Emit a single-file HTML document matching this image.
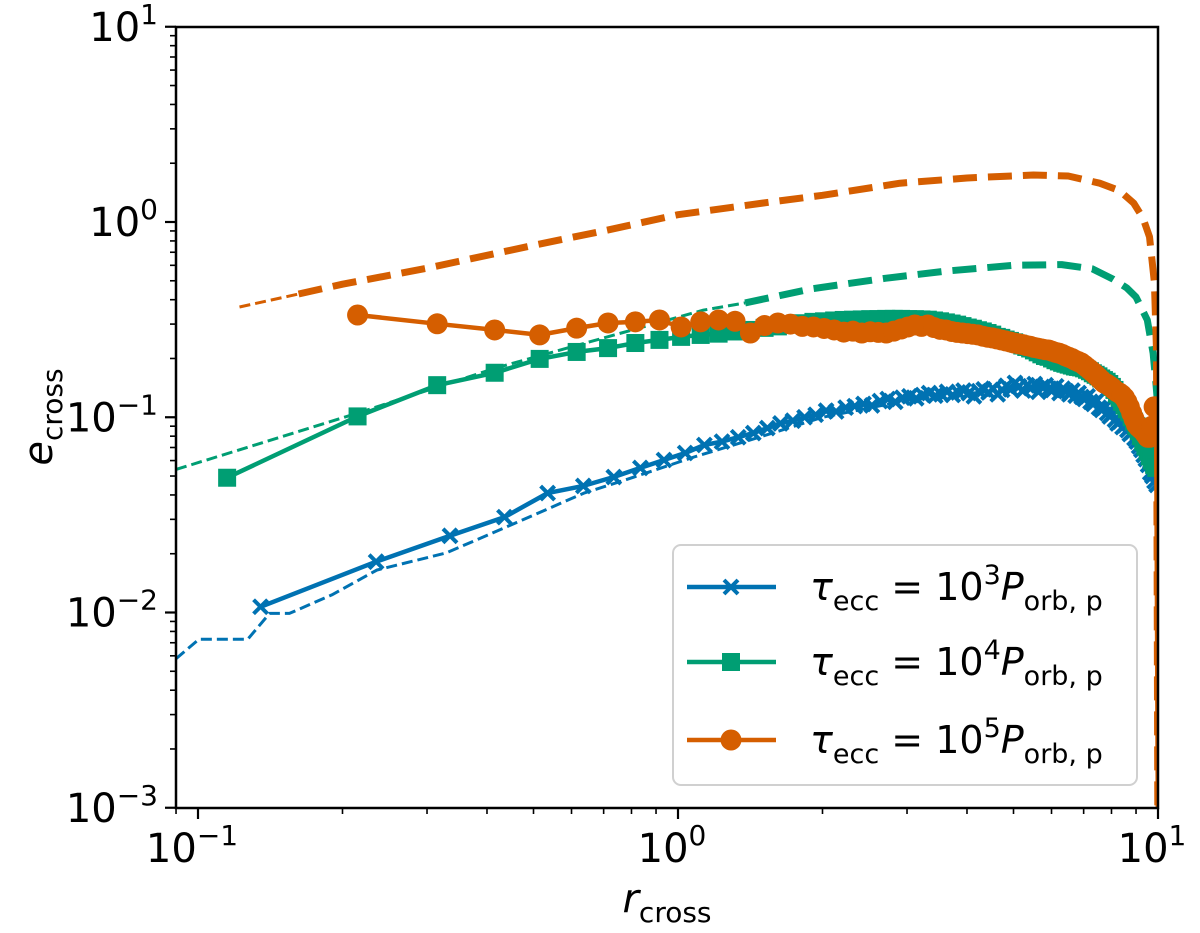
<!DOCTYPE html>
<html><head><meta charset="utf-8"><style>
html,body{margin:0;padding:0;background:#fff;}
svg{display:block;font-family:"DejaVu Sans","Liberation Sans",sans-serif;}
</style></head><body>
<svg id="chart" width="1200" height="933" viewBox="0 0 1200 933" xmlns="http://www.w3.org/2000/svg">
<defs><clipPath id="plotclip"><rect x="176" y="27" width="982" height="781"/></clipPath></defs>
<g id="plot" clip-path="url(#plotclip)"></g>
<g id="axes"></g>
<text x="52" y="417" font-size="40" text-anchor="middle" transform="rotate(-90 52 417)"><tspan font-style="italic">e</tspan><tspan font-size="28" dy="10">cross</tspan></text>
<text x="667" y="912" font-size="40" text-anchor="middle"><tspan font-style="italic">r</tspan><tspan font-size="28" dy="10">cross</tspan></text>
<g id="legend"></g>
</svg>
<script>
const xTickVals=[0.1,1,10];
const xTickExp=["−1","0","1"];
const yTickVals=[10,1,0.1,0.01,0.001];
const yTickExp=["1","0","−1","−2","−3"];

const blueR=[0.135,0.235,0.335,0.435,0.535,0.635,0.735,0.835,0.935,1.035,1.135,1.235,1.335,1.435,1.535,1.635,1.735,1.835,1.935,2.035,2.135,2.235,2.335,2.435,2.535,2.635,2.735,2.835,2.935,3.035,3.135,3.235,3.335,3.435,3.535,3.635,3.735,3.835,3.935,4.035,4.135,4.235,4.335,4.435,4.535,4.635,4.735,4.835,4.935,5.035,5.135,5.235,5.335,5.435,5.535,5.635,5.735,5.835,5.935,6.035,6.135,6.235,6.335,6.435,6.535,6.635,6.735,6.835,6.935,7.035,7.135,7.235,7.335,7.435,7.535,7.635,7.735,7.835,7.935,8.035,8.135,8.235,8.335,8.435,8.535,8.635,8.735,8.835,8.935,9.035,9.135,9.235,9.335,9.435,9.535,9.635,9.735,9.835,9.935];
const blueE=[0.0107,0.0182,0.0247,0.0308,0.0409,0.0445,0.0494,0.055,0.0604,0.0656,0.0721,0.075,0.079,0.083,0.088,0.093,0.096,0.1,0.103,0.108,0.107,0.112,0.114,0.117,0.115,0.121,0.124,0.12,0.126,0.128,0.125,0.13,0.133,0.129,0.131,0.135,0.13,0.134,0.137,0.133,0.128,0.136,0.139,0.134,0.14,0.131,0.138,0.145,0.139,0.15,0.144,0.137,0.146,0.141,0.148,0.135,0.143,0.146,0.14,0.138,0.144,0.133,0.14,0.136,0.131,0.137,0.129,0.133,0.127,0.124,0.128,0.12,0.117,0.121,0.112,0.109,0.112,0.105,0.101,0.104,0.097,0.093,0.095,0.089,0.091,0.086,0.082,0.084,0.078,0.075,0.071,0.068,0.064,0.061,0.057,0.052,0.05,0.047,0.045];
const greenR=[0.115,0.215,0.315,0.415,0.515,0.615,0.715,0.815,0.915,1.015,1.115,1.215,1.315,1.415,1.515,1.615,1.715,1.815,1.915,2.015,2.115,2.215,2.315,2.415,2.515,2.615,2.715,2.815,2.915,3.015,3.115,3.215,3.315,3.415,3.515,3.615,3.715,3.815,3.915,4.015,4.115,4.215,4.315,4.415,4.515,4.615,4.715,4.815,4.915,5.015,5.115,5.215,5.315,5.415,5.515,5.615,5.715,5.815,5.915,6.015,6.115,6.215,6.315,6.415,6.515,6.615,6.715,6.815,6.915,7.015,7.115,7.215,7.315,7.415,7.515,7.615,7.715,7.815,7.915,8.015,8.115,8.215,8.315,8.415,8.515,8.615,8.715,8.815,8.915,9.015,9.115,9.215,9.315,9.415,9.515,9.615,9.715,9.815,9.915];
const greenE=[0.049,0.101,0.146,0.169,0.199,0.216,0.226,0.24,0.249,0.258,0.264,0.268,0.275,0.28,0.287,0.292,0.298,0.303,0.308,0.31,0.313,0.315,0.316,0.317,0.318,0.318,0.319,0.319,0.319,0.318,0.318,0.317,0.316,0.313,0.31,0.306,0.302,0.298,0.293,0.288,0.284,0.279,0.275,0.27,0.265,0.258,0.255,0.25,0.246,0.242,0.238,0.233,0.229,0.225,0.22,0.215,0.21,0.206,0.204,0.2,0.196,0.193,0.19,0.188,0.186,0.184,0.182,0.181,0.18,0.178,0.175,0.172,0.168,0.165,0.162,0.158,0.155,0.152,0.148,0.143,0.138,0.132,0.126,0.12,0.115,0.11,0.106,0.1,0.095,0.09,0.085,0.08,0.075,0.071,0.067,0.063,0.06,0.057,0.055];
const orangeR=[0.215,0.315,0.415,0.515,0.615,0.715,0.815,0.915,1.015,1.115,1.215,1.315,1.415,1.515,1.615,1.715,1.815,1.915,2.015,2.115,2.215,2.315,2.415,2.515,2.615,2.715,2.815,2.915,3.015,3.115,3.215,3.315,3.415,3.515,3.615,3.715,3.815,3.915,4.015,4.115,4.215,4.315,4.415,4.515,4.615,4.715,4.815,4.915,5.015,5.115,5.215,5.315,5.415,5.515,5.615,5.715,5.815,5.915,6.015,6.115,6.215,6.315,6.415,6.515,6.615,6.715,6.815,6.915,7.015,7.115,7.215,7.315,7.415,7.515,7.615,7.715,7.815,7.915,8.015,8.115,8.215,8.315,8.415,8.515,8.615,8.715,8.815,8.915,9.015,9.115,9.215,9.315,9.415,9.515,9.615,9.715,9.815,9.915,9.99];
const orangeE=[0.334,0.301,0.28,0.264,0.286,0.304,0.308,0.315,0.29,0.308,0.315,0.31,0.27,0.295,0.304,0.3,0.292,0.29,0.285,0.28,0.273,0.276,0.27,0.274,0.272,0.27,0.276,0.283,0.29,0.297,0.292,0.297,0.288,0.282,0.28,0.275,0.272,0.27,0.268,0.266,0.264,0.26,0.257,0.255,0.252,0.249,0.246,0.243,0.24,0.238,0.236,0.233,0.231,0.228,0.226,0.224,0.222,0.221,0.218,0.215,0.213,0.21,0.206,0.203,0.2,0.196,0.193,0.19,0.185,0.18,0.175,0.17,0.165,0.16,0.155,0.15,0.148,0.145,0.142,0.138,0.135,0.133,0.13,0.126,0.12,0.113,0.105,0.098,0.092,0.089,0.087,0.085,0.082,0.079,0.079,0.09,0.113,0.09,0.001];

const blueDashR=[0.09,0.1005,0.127,0.141,0.155,0.19,0.236,0.329,0.434,0.637,0.776,1.08,1.5,2,3,4,5,6,7,8,9,9.5,9.9];
const blueDashE=[0.0058,0.0073,0.0073,0.0099,0.0099,0.0123,0.0165,0.0202,0.0271,0.0409,0.0477,0.0626,0.08,0.1,0.122,0.132,0.14,0.14,0.128,0.11,0.085,0.068,0.048];
const greenDashThinR=[0.09,0.215,0.418,1.13,1.38];
const greenDashThinE=[0.054,0.105,0.179,0.354,0.385];
const greenDashR=[1.38,1.9,2.7,3.6,5,6.3,7.3,8.06,8.6,9.0,9.5,9.77,9.9,9.97];
const greenDashE=[0.385,0.455,0.515,0.56,0.6,0.605,0.575,0.51,0.46,0.413,0.315,0.213,0.15,0.12];
const orangeDashThinR=[0.122,0.162];
const orangeDashThinE=[0.367,0.428];
const orangeDashR=[0.162,0.2,0.3,0.5,0.7,1,1.5,2,2.9,4,5.5,6.5,7.56,8.3,8.9,9.3,9.6,9.83,9.93,9.99];
const orangeDashE=[0.428,0.48,0.58,0.76,0.9,1.09,1.25,1.37,1.58,1.68,1.74,1.72,1.58,1.45,1.25,1.05,0.84,0.49,0.22,0.001];

const BLUE="#0072B2",GREEN="#009E73",ORANGE="#D55E00";
const NS="http://www.w3.org/2000/svg";
function X(v){return 678+480*Math.log10(v);}
function Y(v){return 222-195.25*Math.log10(v);}
function mk(tag,attrs,parent){const e=document.createElementNS(NS,tag);for(const k in attrs)e.setAttribute(k,attrs[k]);parent.appendChild(e);return e;}
const plot=document.getElementById('plot'),axes=document.getElementById('axes'),legend=document.getElementById('legend');

function line(rs,es,color,w,dash,parent,name){
  const d=rs.map((r,i)=>(i?'L':'M')+X(r).toFixed(1)+' '+Y(es[i]).toFixed(1)).join(' ');
  const p=mk('path',{d:d,fill:'none',stroke:color,'stroke-width':w,'stroke-linejoin':'round'},parent);
  if(dash)p.setAttribute('stroke-dasharray',dash);
  
  
  return p;
}
function marker(type,cx,cy,color,parent,name){
  let m;
  if(type==='x'){m=mk('path',{d:`M${cx-7} ${cy-7}L${cx+7} ${cy+7}M${cx-7} ${cy+7}L${cx+7} ${cy-7}`,stroke:color,'stroke-width':4,fill:'none'},parent);}
  else if(type==='s'){m=mk('rect',{x:cx-9,y:cy-9,width:18,height:18,fill:color},parent);}
  else {m=mk('circle',{cx:cx,cy:cy,r:10.5,fill:color},parent);}
  
  
  return m;
}

line(blueDashR,blueDashE,BLUE,3,'11 5',plot,'blue-dashed-curve');
line(greenDashThinR,greenDashThinE,GREEN,3,'11 5',plot,'green-dashed-thin-curve');
line(greenDashR,greenDashE,GREEN,7,'24 11',plot,'green-dashed-curve');
line(orangeDashThinR,orangeDashThinE,ORANGE,3,'11 5',plot,'orange-dashed-thin-curve');
line(orangeDashR,orangeDashE,ORANGE,7,'24 11',plot,'orange-dashed-curve');

line(blueR,blueE,BLUE,4.5,null,plot,'blue-series-line');
blueR.forEach((r,i)=>marker('x',X(r),Y(blueE[i]),BLUE,plot,'blue-point'));
line(greenR,greenE,GREEN,4.5,null,plot,'green-series-line');
greenR.forEach((r,i)=>marker('s',X(r),Y(greenE[i]),GREEN,plot,'green-point'));
line(orangeR,orangeE,ORANGE,4.5,null,plot,'orange-series-line');
orangeR.forEach((r,i)=>{if(orangeE[i]>0.002)marker('o',X(r),Y(orangeE[i]),ORANGE,plot,'orange-point');});

const frame=mk('rect',{x:176,y:27,width:982,height:781,fill:'none',stroke:'#000','stroke-width':2.5},axes);


for(let d=-2;d<=1;d++){for(let m=1;m<=9;m++){const v=m*Math.pow(10,d);const x=X(v);if(x<175||x>1159)continue;
  const t=mk('line',{x1:x,y1:808,x2:x,y2:808+(m===1?11:6),stroke:'#000','stroke-width':m===1?2.2:1.6},axes);
  
  }}
xTickVals.forEach((v,i)=>{const t=mk('text',{x:X(v)-6,y:862,'font-size':40,'text-anchor':'middle'},axes);
  t.innerHTML='10<tspan font-size="28" dy="-17">'+xTickExp[i]+'</tspan>';
  
  });
for(let d=-3;d<=0;d++){for(let m=1;m<=9;m++){const v=m*Math.pow(10,d);
  const y=Y(v);const t=mk('line',{x1:176,y1:y,x2:176-(m===1?11:6),y2:y,stroke:'#000','stroke-width':m===1?2.2:1.6},axes);
  
  }}
{const t=mk('line',{x1:176,y1:Y(10),x2:165,y2:Y(10),stroke:'#000','stroke-width':2.2},axes);
 
 }
yTickVals.forEach((v,i)=>{const t=mk('text',{x:158,y:Y(v)+14,'font-size':40,'text-anchor':'end'},axes);
  t.innerHTML='10<tspan font-size="28" dy="-17">'+yTickExp[i]+'</tspan>';
  
  });

const lb=mk('rect',{x:673,y:545,width:464,height:240,rx:8,fill:'#fff','fill-opacity':0.85,stroke:'#d0d0d0','stroke-width':2},legend);


const legExp=["3","4","5"],legCol=[BLUE,GREEN,ORANGE],legMk=['x','s','o'],legY=[587,662,740];
legExp.forEach((e,i)=>{
  const y=legY[i];
  const l=mk('line',{x1:687,y1:y,x2:776,y2:y,stroke:legCol[i],'stroke-width':4.5},legend);
  
  
  marker(legMk[i],731,y,legCol[i],legend,'legend-marker');
  const t=mk('text',{x:810,y:y+13,'font-size':38},legend);
  t.innerHTML='<tspan font-style="italic">τ</tspan><tspan font-size="27" dy="10">ecc</tspan><tspan dy="-10"> = 10</tspan><tspan font-size="27" dy="-16">'+e+'</tspan><tspan font-style="italic" dy="16">P</tspan><tspan font-size="27" dy="10">orb, p</tspan>';
  
  
});
</script>
</body></html>
